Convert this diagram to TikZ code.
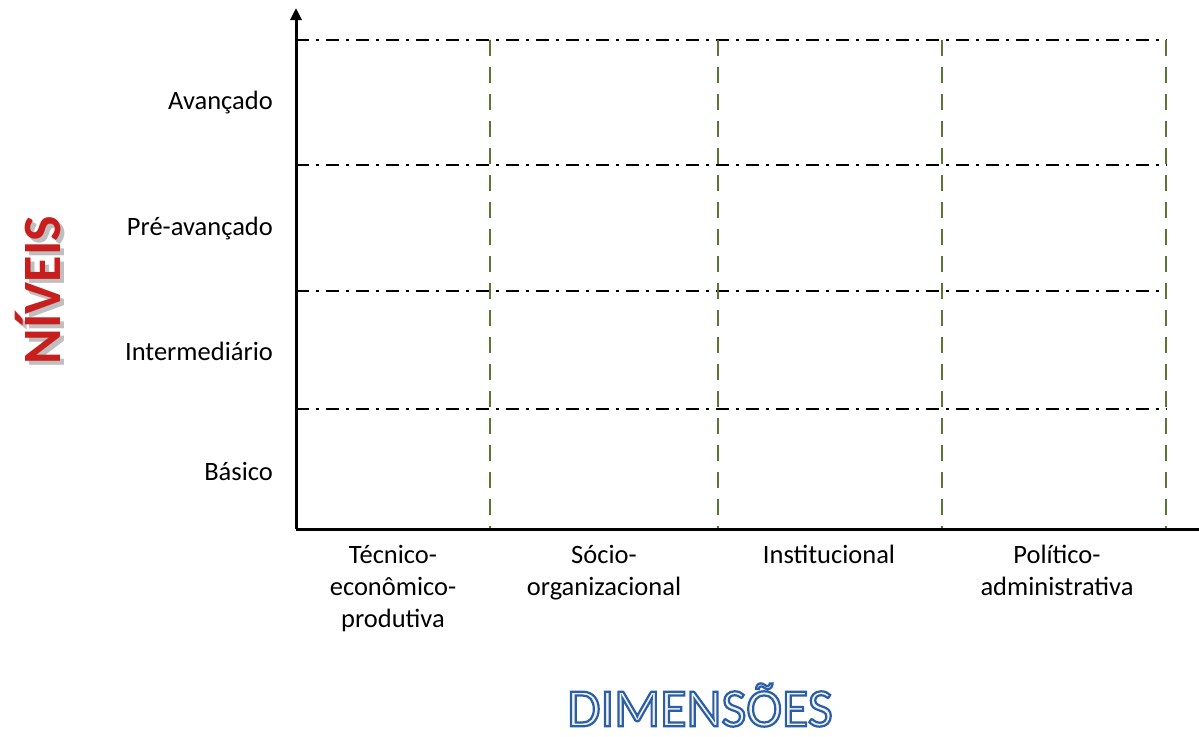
\documentclass[tikz,border=0pt]{standalone}
\usepackage{fontspec}
\setmainfont{Carlito}
\usetikzlibrary{arrows.meta}
\definecolor{gridgreen}{RGB}{90,118,50}
\definecolor{cream}{RGB}{245,242,228}
\definecolor{nred}{RGB}{200,30,30}
\newcommand{\outlinetext}[1]{\special{pdf:literal direct 2 Tr 2.2 w 0.16 0.37 0.67 RG}#1\special{pdf:literal direct 0 Tr}}
\tikzset{
  lvl/.style={anchor=east, inner sep=0pt, font=\fontsize{26.5}{30}\selectfont},
  dim/.style={anchor=north, inner sep=0pt, align=center, font=\fontsize{26.5}{32}\selectfont},
  hline/.style={line width=1.6pt, dash pattern=on 13pt off 7pt on 3pt off 7pt},
  vline/.style={line width=1.8pt, gridgreen, dash pattern=on 16pt off 11pt},
  axis/.style={line width=3pt}
}
\begin{document}
\begin{tikzpicture}[x=1pt,y=-1pt]
\useasboundingbox (0,0) rectangle (1199,736);
% axes
\coordinate (o) at (296,529);
\coordinate (ytop) at (296,8);
\coordinate (xend) at (1199,529);
% horizontal dash-dot lines
\foreach \y/\n in {40/a,165/b,291/c,409/d}{
  \coordinate (hl\n) at (296,\y);
  \coordinate (hr\n) at (1167,\y);
  \draw[hline] (hl\n) -- (hr\n);
}
% vertical dashed lines
\foreach \x/\n in {490/a,718/b,942/c,1166/d}{
  \coordinate (vt\n) at (\x,40);
  \coordinate (vb\n) at (\x,529);
  \draw[vline] (vt\n) -- (vb\n);
}
\draw[axis,-{Triangle[width=11pt,length=12pt]}] (o) -- (ytop);
\draw[axis] (o) -- (xend);
% level labels
\node[lvl] (l1) at (273,103) {Avançado};
\node[lvl] (l2) at (273,229) {Pré-avançado};
\node[lvl] (l3) at (273,351) {Intermediário};
\node[lvl] (l4) at (273,471) {Básico};
% dimension labels
\node[dim] (d1) at (393,545) {Técnico-\\econômico-\\produtiva};
\node[dim] (d2) at (604,545) {Sócio-\\organizacional};
\node[dim] (d3) at (829,545) {Institucional};
\node[dim] (d4) at (1057,545) {Político-\\administrativa};
% big titles
\node[rotate=90, inner sep=0pt, text=gray!50, font=\fontsize{54}{54}\bfseries\selectfont] at (42,294) {NÍVEIS};
\node[rotate=90, inner sep=0pt, text=nred, font=\fontsize{54}{54}\bfseries\selectfont] (niveis) at (38,290) {NÍVEIS};
\node[inner sep=0pt, text=cream, font=\fontsize{54}{54}\selectfont] (dimensoes) at (700,705) {\outlinetext{DIMENSÕES}};
\end{tikzpicture}
\end{document}
